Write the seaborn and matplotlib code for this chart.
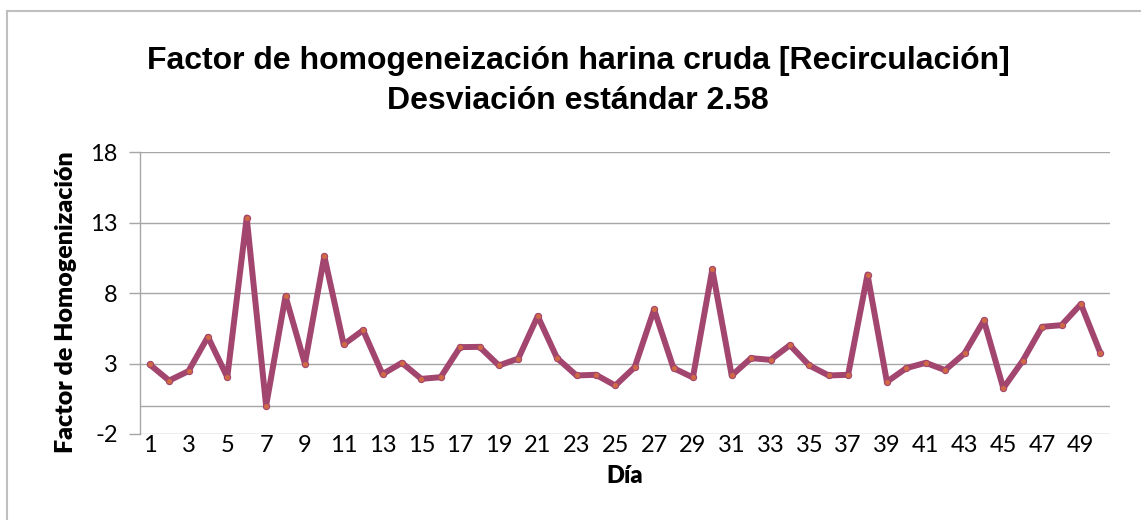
import matplotlib
matplotlib.use("Agg")
import matplotlib.pyplot as plt
from matplotlib.patches import Rectangle
import numpy as np
import pandas as pd
import seaborn as sns

# Daily homogenisation factor of the raw meal (recirculation mode)
dias = list(range(1, 51))
factor = [
    2.93, 1.79, 2.46, 4.89, 2.03, 13.35, 0.00, 7.78, 2.98, 10.61,
    4.35, 5.36, 2.24, 3.05, 1.91, 2.03, 4.16, 4.18, 2.86, 3.35,
    6.36, 3.38, 2.15, 2.20, 1.44, 2.74, 6.83, 2.67, 2.01, 9.67,
    2.15, 3.38, 3.26, 4.30, 2.86, 2.15, 2.20, 9.31, 1.70, 2.67,
    3.05, 2.53, 3.71, 6.05, 1.25, 3.19, 5.60, 5.72, 7.21, 3.76,
]
y_ticks = [-2, 3, 8, 13, 18]
x_tick_labels = list(range(1, 50, 2))

titulo = "Factor de homogeneización harina cruda [Recirculación]\nDesviación estándar 2.58"
etiqueta_y = "Factor de Homogenización"
etiqueta_x = "Día"

df = pd.DataFrame({"Día": dias, "Factor": factor})

sns.set_style("white")
plt.rcParams["font.family"] = ["Lato", "DejaVu Sans"]
plt.rcParams["text.color"] = "black"
plt.rcParams["xtick.color"] = "black"
plt.rcParams["ytick.color"] = "black"

fig = plt.figure(figsize=(11.41, 5.2), dpi=100)
ax = fig.add_axes([140 / 1141, 1 - 434 / 520, 970 / 1141, 282 / 520])

line_color = "#A3466F"
grid_color = "#A6A6A6"

# horizontal gridlines, including the zero line where the category axis crosses
for yv in y_ticks + [0]:
    ax.axhline(yv, color=grid_color, lw=1.0, zorder=0)

sns.lineplot(data=df, x="Día", y="Factor", ax=ax, color=line_color,
             linewidth=4.3, marker="o", markersize=4.5,
             markerfacecolor="#CF6A45", markeredgecolor=line_color,
             markeredgewidth=0.8, zorder=3)

ax.set_xlim(0.5, 50.5)
ax.set_ylim(-2, 18)
ax.set_yticks(y_ticks)
ax.set_yticklabels([str(v) for v in y_ticks], fontsize=17)
ax.set_xticks(x_tick_labels)
ax.set_xticklabels([str(v) for v in x_tick_labels], fontsize=17)
ax.tick_params(axis="x", length=0, pad=1, colors="black")
ax.tick_params(axis="y", length=8, width=1.0, color=grid_color,
               labelcolor="black", pad=8, left=True)

for side in ["top", "right", "bottom"]:
    ax.spines[side].set_visible(False)
ax.spines["left"].set_color(grid_color)
ax.spines["left"].set_linewidth(1.0)

ax.set_xlabel("")
ax.set_ylabel("")

fig.text(66 / 1141, 1 - 302 / 520, etiqueta_y, rotation=90, ha="center",
         va="center", fontsize=18, fontweight="heavy", color="black")
fig.text(625 / 1141, 1 - 476 / 520, etiqueta_x, ha="center", va="center",
         fontsize=17, fontweight="heavy", color="black")
fig.text(578 / 1141, 1 - 81 / 520, titulo, ha="center", va="center",
         fontsize=23, fontweight="bold", family="Liberation Sans",
         linespacing=1.4, color="black")

# light frame around the chart area
fig.patches.append(Rectangle((7 / 1141, -0.1), 1.2, 1 - 11 / 520 + 0.1,
                             transform=fig.transFigure, fill=False,
                             edgecolor="#BFBFBF", linewidth=1.5, zorder=0))

fig.savefig("out.png", dpi=100, facecolor="white")
